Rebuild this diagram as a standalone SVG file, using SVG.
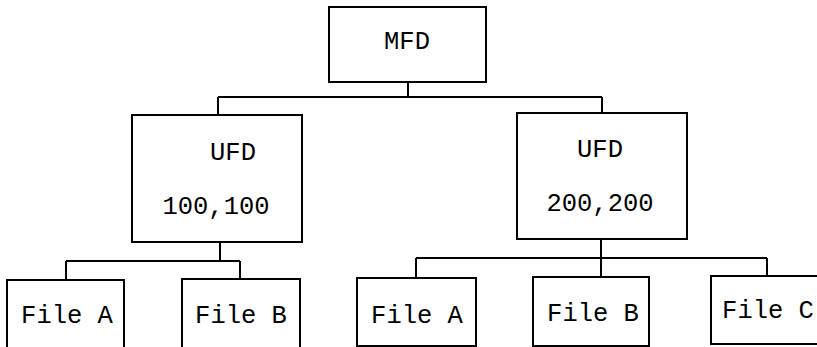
<svg xmlns="http://www.w3.org/2000/svg" width="817" height="347" viewBox="0 0 817 347">
<style>
.box{fill:#fff;stroke:#000;stroke-width:2}
.ln{fill:none;stroke:#000;stroke-width:2}
text{font-family:"Liberation Mono","Courier New",monospace;font-size:25.5px;fill:#000;text-anchor:middle}
</style>
<rect width="817" height="347" fill="#fff"/>
<g id="connectors">
<path class="ln" d="M408 82V97M218 97H602M218 97V115M602 97V113"/>
<path class="ln" d="M220 242V261M66 261H240M66 261V280M240 261V279"/>
<path class="ln" d="M601 239V258M416 258H767M416 258V278M601 258V277M767 258V276"/>
</g>
<g id="mfd"><rect class="box" x="329" y="7" width="157" height="75"/><text x="407" y="49">MFD</text></g>
<g id="ufd1"><rect class="box" x="132" y="115" width="170" height="127"/><text x="233" y="160">UFD</text><text x="216" y="214">100,100</text></g>
<g id="ufd2"><rect class="box" x="517" y="113" width="170" height="126"/><text x="600" y="157">UFD</text><text x="600" y="211">200,200</text></g>
<g id="fileA1"><rect class="box" x="7" y="280" width="117" height="80"/><text x="67" y="323">File A</text></g>
<g id="fileB1"><rect class="box" x="182" y="279" width="118" height="81"/><text x="241" y="323">File B</text></g>
<g id="fileA2"><rect class="box" x="357" y="278" width="119" height="68"/><text x="417" y="323">File A</text></g>
<g id="fileB2"><rect class="box" x="533" y="277" width="116" height="69"/><text x="593" y="321">File B</text></g>
<g id="fileC2"><rect class="box" x="711" y="276" width="120" height="68"/><text x="768" y="318">File C</text></g>
</svg>
